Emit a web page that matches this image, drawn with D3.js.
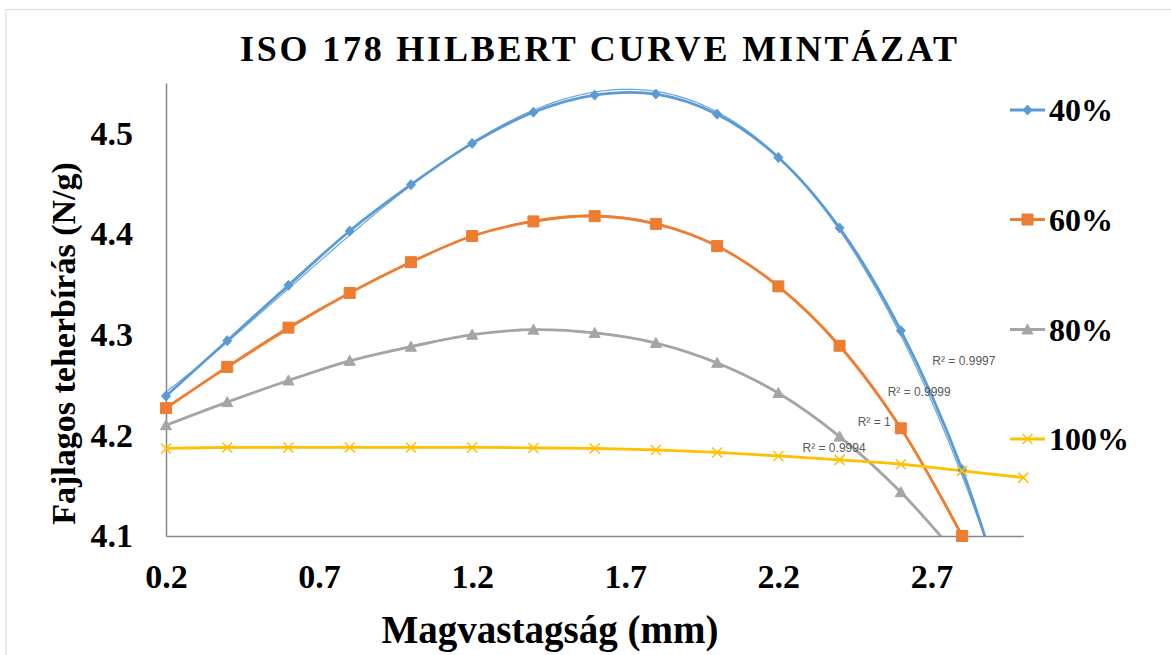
<!DOCTYPE html>
<html>
<head>
<meta charset="utf-8">
<script src="https://cdn.jsdelivr.net/npm/d3@7"></script>
<style>
  html, body { margin: 0; padding: 0; background: #fff; }
  svg { display: block; }
</style>
</head>
<body>
<svg id="chart" width="1171" height="655"></svg>
<script>
// ---- data ----
const title = "ISO 178 HILBERT CURVE MINTÁZAT";
const xTitle = "Magvastagság (mm)";
const yTitle = "Fajlagos teherbírás (N/g)";
const xValues = [0.2, 0.4, 0.6, 0.8, 1.0, 1.2, 1.4, 1.6, 1.8, 2.0, 2.2, 2.4, 2.6, 2.8, 3.0];
const seriesNames = ["40%", "60%", "80%", "100%"];
const s40 = [4.239, 4.294, 4.349, 4.403, 4.449, 4.490, 4.521, 4.538, 4.539, 4.519, 4.476, 4.406, 4.304, 4.166, 3.975];
const s60 = [4.227, 4.268, 4.307, 4.3415, 4.372, 4.398, 4.4125, 4.4177, 4.410, 4.388, 4.348, 4.289, 4.207, 4.100];
const s80 = [4.210, 4.233, 4.2545, 4.274, 4.288, 4.300, 4.305, 4.3017, 4.2917, 4.272, 4.242, 4.1988, 4.1435, 4.075];
const s100 = [4.187, 4.188, 4.188, 4.188, 4.188, 4.188, 4.1875, 4.187, 4.1855, 4.183, 4.1795, 4.1756, 4.1713, 4.1647, 4.158];
const rSquared = ["R² = 0.9997", "R² = 0.9999", "R² = 1", "R² = 0.9994"];
const rLabelX = [2.703, 2.557, 2.459, 2.279];
const rLabelY = [4.274, 4.243, 4.213, 4.187];
const xTicks = [0.2, 0.7, 1.2, 1.7, 2.2, 2.7];
const yTicks = [4.1, 4.2, 4.3, 4.4, 4.5];
const xDomain = [0.2, 3.0];
const yDomain = [4.1, 4.55];

// ---- styles ----
const colors = ["#5B9BD5", "#ED7D31", "#A5A5A5", "#FFC000"];
const markerPaths = [
  "M0,-5L4.5,0L0,5L-4.5,0Z",
  "M-5.5,-5.5H5.5V5.5H-5.5Z",
  "M0,-5.5L5.5,4.5L-5.5,4.5Z",
  "M-5,-5L5,5M-5,5L5,-5"
];
const serif = "'Liberation Serif','Times New Roman',Times,serif";

const svg = d3.select("#chart");
const x = d3.scaleLinear().domain(xDomain).range([166, 1023.3]);
const y = d3.scaleLinear().domain(yDomain).range([536, 83]);

// outer chart border
svg.append("rect").attr("x", 6).attr("y", 9.5).attr("width", 1300).attr("height", 800)
  .attr("fill", "#fff").attr("stroke", "#d9d9d9").attr("stroke-width", 1);

svg.append("defs").append("clipPath").attr("id", "plotclip")
  .append("rect").attr("x", 166).attr("y", 83).attr("width", 1023.3 - 166).attr("height", 536 - 83);

// title
svg.append("text").attr("x", 598.5).attr("y", 61).attr("text-anchor", "middle")
  .attr("font-family", serif).attr("font-weight", "bold").attr("font-size", 36)
  .attr("textLength", 717).attr("lengthAdjust", "spacing")
  .text(title);

// axes
const xAxis = d3.axisBottom(x).tickValues(xTicks).tickFormat(d3.format(".1f")).tickSize(0).tickPadding(28);
const yAxis = d3.axisLeft(y).tickValues(yTicks).tickFormat(d3.format(".1f")).tickSize(0).tickPadding(33);

const gx = svg.append("g").attr("transform", "translate(0,536)").call(xAxis);
const gy = svg.append("g").attr("transform", "translate(166,0)").call(yAxis);
[gx, gy].forEach(g => {
  g.select(".domain").attr("stroke", "#868686").attr("stroke-width", 1.5);
  g.selectAll("text").attr("font-family", serif).attr("font-weight", "bold")
    .attr("font-size", 34).attr("fill", "#000");
});

// axis titles
svg.append("text").attr("x", 550).attr("y", 643).attr("text-anchor", "middle")
  .attr("font-family", serif).attr("font-weight", "bold").attr("font-size", 39)
  .text(xTitle);
svg.append("text").attr("transform", "translate(75,343.5) rotate(-90)").attr("text-anchor", "middle")
  .attr("font-family", serif).attr("font-weight", "bold").attr("font-size", 34)
  .text(yTitle);

// polynomial least squares fit (trendlines)
function polyfit(xs, ys, order) {
  const n = order + 1;
  const A = Array.from({length: n}, () => new Array(n + 1).fill(0));
  for (let k = 0; k < xs.length; k++) {
    const p = [];
    for (let i = 0; i < n; i++) p.push(Math.pow(xs[k], i));
    for (let i = 0; i < n; i++) {
      for (let j = 0; j < n; j++) A[i][j] += p[i] * p[j];
      A[i][n] += p[i] * ys[k];
    }
  }
  for (let i = 0; i < n; i++) {
    let m = i;
    for (let r = i + 1; r < n; r++) if (Math.abs(A[r][i]) > Math.abs(A[m][i])) m = r;
    [A[i], A[m]] = [A[m], A[i]];
    for (let r = 0; r < n; r++) {
      if (r === i) continue;
      const f = A[r][i] / A[i][i];
      for (let c = i; c <= n; c++) A[r][c] -= f * A[i][c];
    }
  }
  return A.map((row, i) => row[n] / row[i]);
}

const allSeries = [s40, s60, s80, s100];
const plot = svg.append("g").attr("clip-path", "url(#plotclip)");

const line = d3.line().x(d => x(d[0])).y(d => y(d[1])).curve(d3.curveCatmullRom.alpha(0.5));
const tline = d3.line().x(d => x(d[0])).y(d => y(d[1]));

// trendlines
allSeries.forEach((vals, si) => {
  const xs = xValues.slice(0, vals.length);
  const c = polyfit(xs, vals, 3);
  const pts = d3.range(0, 201).map(i => {
    const xv = xs[0] + (xs[xs.length - 1] - xs[0]) * i / 200;
    return [xv, c.reduce((s, ci, k) => s + ci * Math.pow(xv, k), 0)];
  });
  plot.append("path").attr("d", tline(pts)).attr("fill", "none")
    .attr("stroke", colors[si]).attr("stroke-width", 1.2).attr("opacity", 0.9);
});

// series lines
allSeries.forEach((vals, si) => {
  const pts = vals.map((v, i) => [xValues[i], v]);
  plot.append("path").attr("d", line(pts)).attr("fill", "none")
    .attr("stroke", colors[si]).attr("stroke-width", 2.8).attr("stroke-linejoin", "round");
});

// markers
allSeries.forEach((vals, si) => {
  const pts = vals.map((v, i) => [xValues[i], v]).filter(d => d[1] >= yDomain[0] - 1e-9);
  svg.append("g").selectAll("path").data(pts).join("path")
    .attr("transform", d => `translate(${x(d[0])},${y(d[1])})`)
    .attr("d", markerPaths[si])
    .attr("fill", si === 3 ? "none" : colors[si])
    .attr("stroke", colors[si]).attr("stroke-width", si === 3 ? 1.5 : 1);
});

// R² labels
rSquared.forEach((t, i) => {
  svg.append("text").attr("x", x(rLabelX[i])).attr("y", y(rLabelY[i]) + 4)
    .attr("font-family", "'Liberation Sans',Arial,sans-serif").attr("font-size", 12)
    .attr("fill", "#595959").text(t);
});

// legend
const legendY = [110, 219.5, 329.5, 439];
seriesNames.forEach((name, i) => {
  const g = svg.append("g").attr("transform", `translate(0,${legendY[i]})`);
  g.append("line").attr("x1", 1010).attr("x2", 1045).attr("y1", 0).attr("y2", 0)
    .attr("stroke", colors[i]).attr("stroke-width", 2.8);
  g.append("path").attr("transform", "translate(1027.5,0)").attr("d", markerPaths[i])
    .attr("fill", i === 3 ? "none" : colors[i]).attr("stroke", colors[i])
    .attr("stroke-width", i === 3 ? 1.5 : 1);
  g.append("text").attr("x", 1049).attr("y", 11).attr("font-family", serif)
    .attr("font-weight", "bold").attr("font-size", 32).text(name);
});
</script>
</body>
</html>
